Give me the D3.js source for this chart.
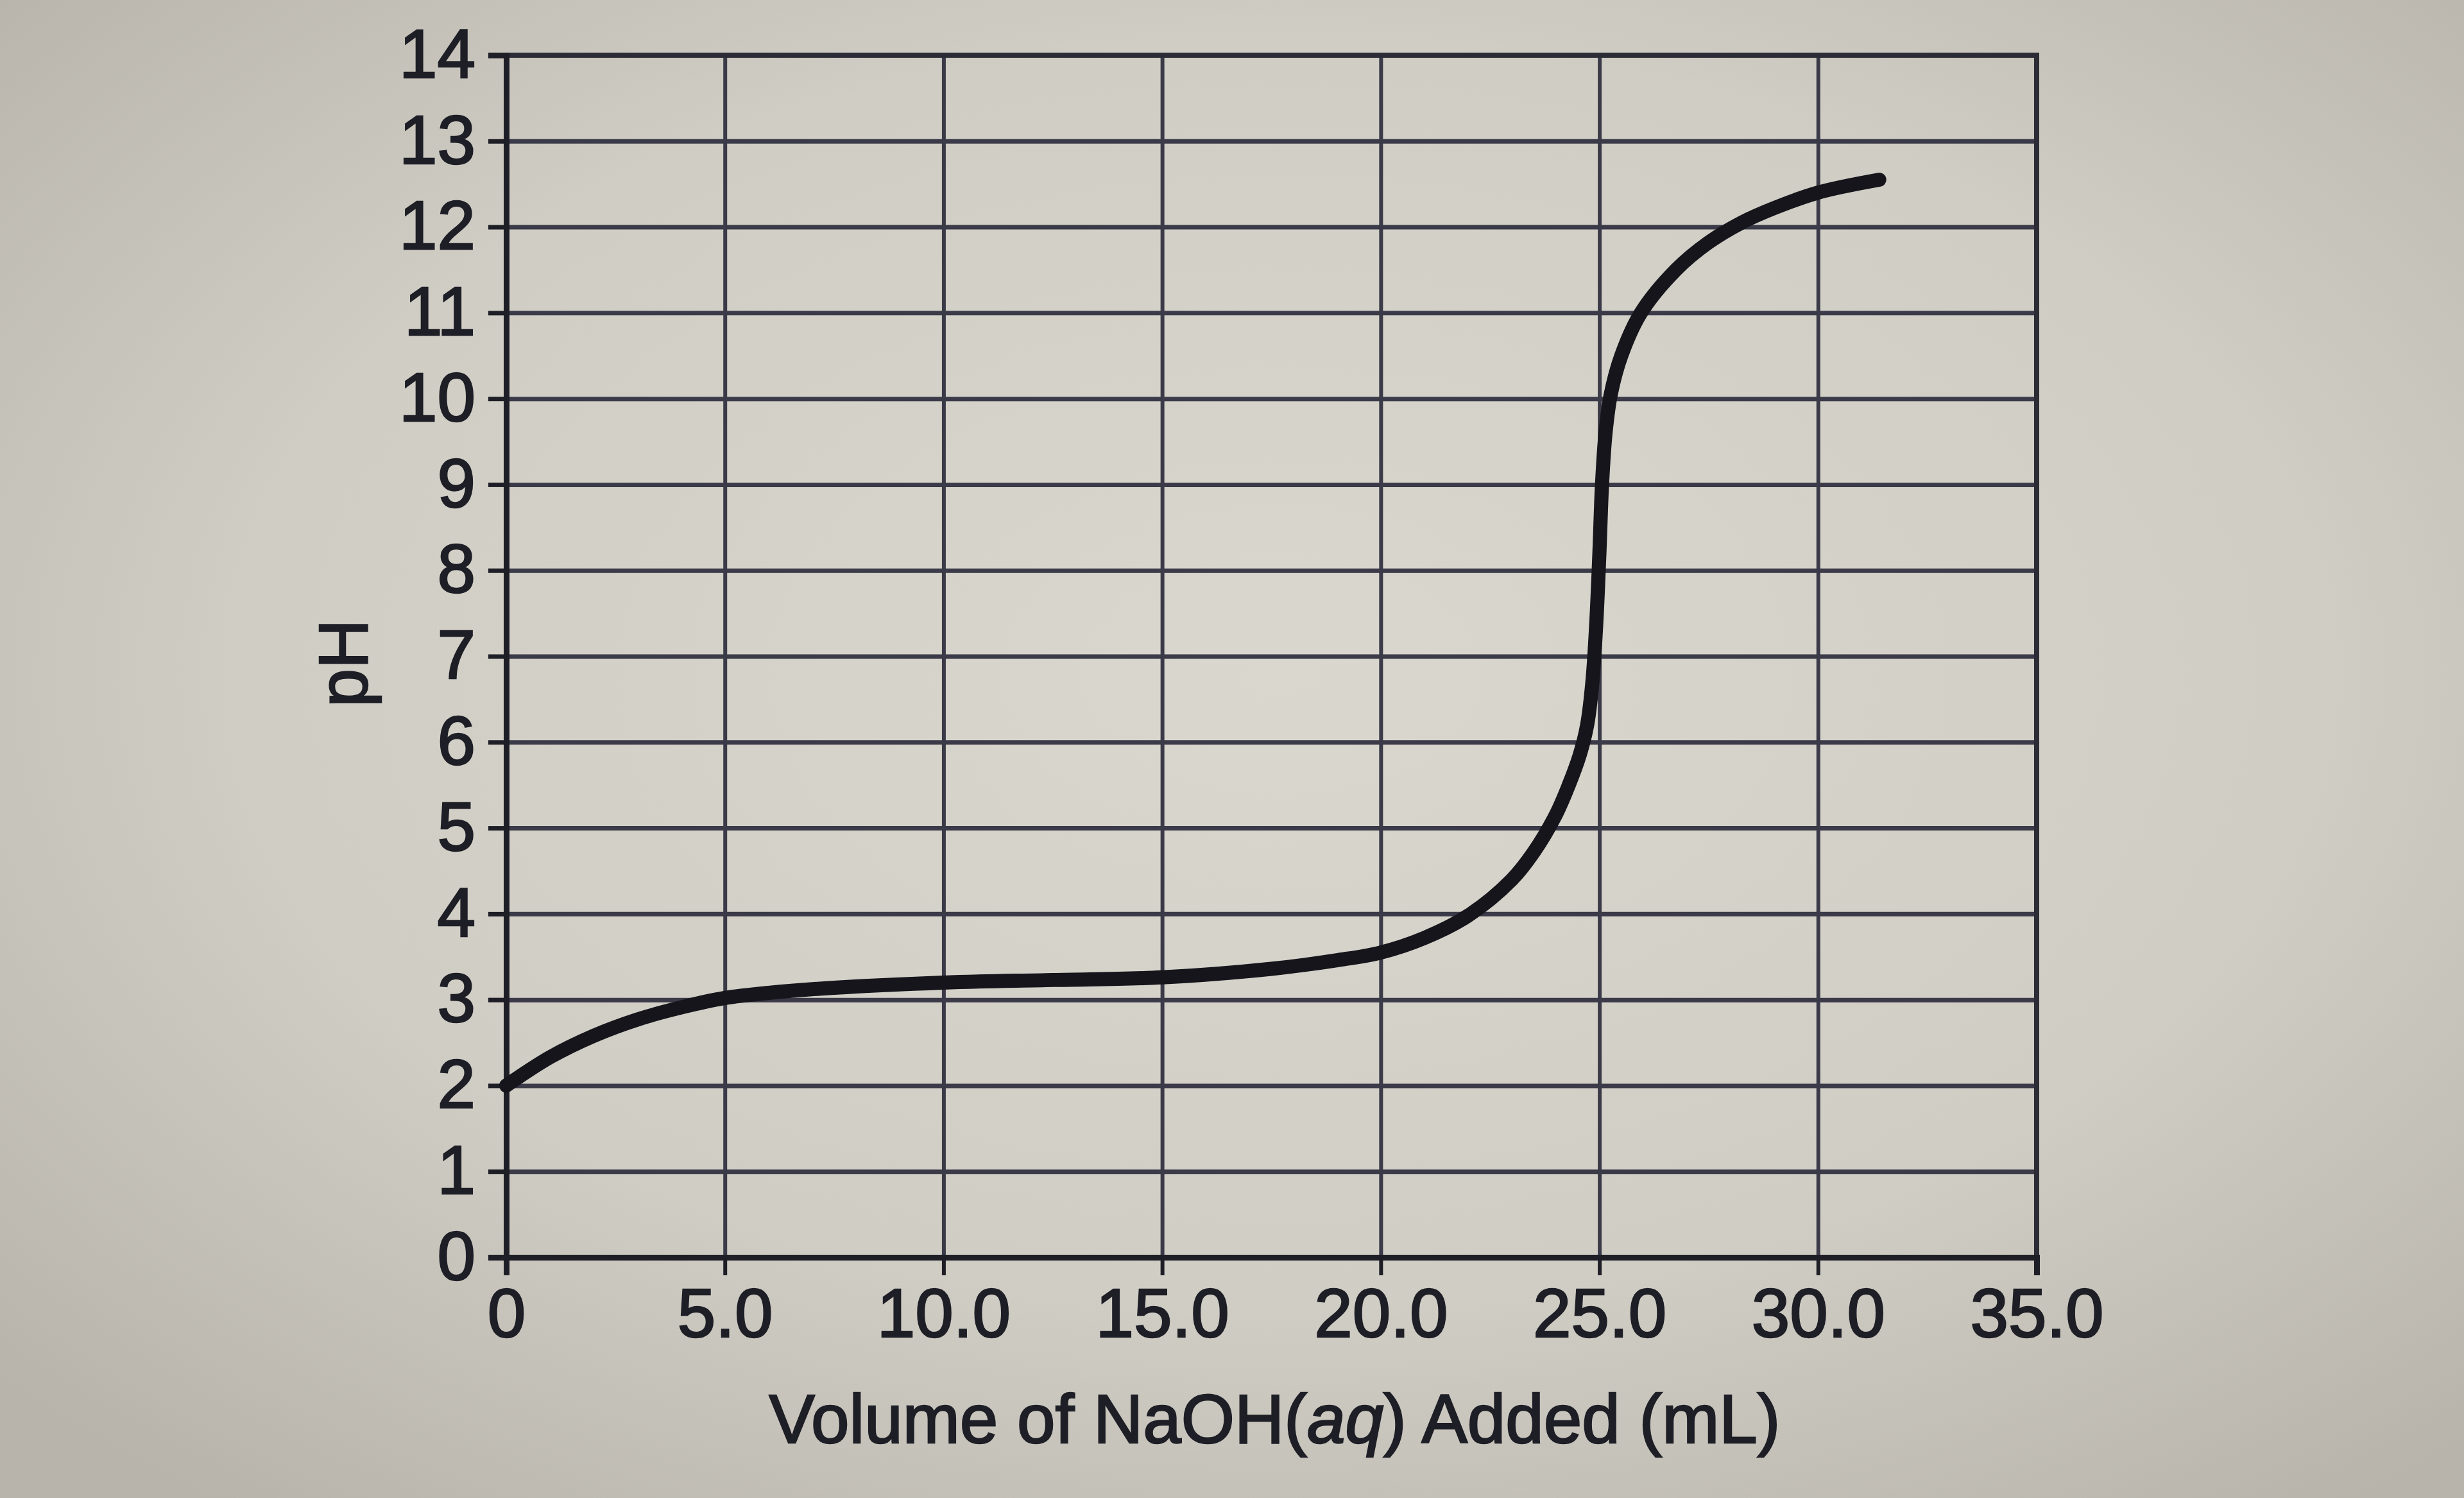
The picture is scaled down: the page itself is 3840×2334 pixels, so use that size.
<!DOCTYPE html>
<html><head><meta charset="utf-8">
<script src="https://cdn.jsdelivr.net/npm/d3@7"></script>
<style>html,body{margin:0;padding:0;background:#cbc8c0;} svg{display:block}</style>
</head><body>
<svg id="chart" width="3840" height="2334"></svg>
<script>
// Data (titration curve)
const volumeML = [0, 1, 2, 3, 4, 5, 6, 7.5, 10, 12.5, 15, 17.5, 19, 20, 21, 22, 23, 23.5, 24, 24.3, 24.55, 24.72, 24.84, 24.93, 25.0, 25.06, 25.14, 25.26, 25.5, 25.95, 26.75, 27.5, 28.25, 29, 30, 31.4];
const pHValues = [2.0, 2.33, 2.58, 2.77, 2.91, 3.02, 3.08, 3.14, 3.2, 3.23, 3.26, 3.36, 3.46, 3.55, 3.72, 3.98, 4.4, 4.72, 5.15, 5.5, 5.85, 6.2, 6.7, 7.4, 8.2, 9.0, 9.6, 10.05, 10.5, 11.0, 11.5, 11.82, 12.05, 12.22, 12.4, 12.55];
const xTickValues = [0, 5, 10, 15, 20, 25, 30, 35];
const xTickLabels = ["0", "5.0", "10.0", "15.0", "20.0", "25.0", "30.0", "35.0"];
const yTickValues = [0, 1, 2, 3, 4, 5, 6, 7, 8, 9, 10, 11, 12, 13, 14];
const xTitleParts = [["Volume of NaOH(", "normal"], ["aq", "italic"], [") Added (mL)", "normal"]];
const yTitle = "pH";

const W = 3840, H = 2334;
const L = 789, R = 3174, T = 86, B = 1959;
const FONT = "'Liberation Sans', Arial, Helvetica, sans-serif";
const INK = "#1e1e26";
const GRID = "#3a3a48";

const svg = d3.select("#chart");

// photographic paper background
const defs = svg.append("defs");
const rg = defs.append("radialGradient").attr("id", "bg")
  .attr("cx", "52%").attr("cy", "45%").attr("r", "70%");
rg.append("stop").attr("offset", "0%").attr("stop-color", "#dad7cf");
rg.append("stop").attr("offset", "60%").attr("stop-color", "#d0cdc5");
rg.append("stop").attr("offset", "100%").attr("stop-color", "#b8b4ab");
svg.append("rect").attr("width", W).attr("height", H).attr("fill", "url(#bg)");

const x = d3.scaleLinear().domain([0, 35]).range([L, R]);
const y = d3.scaleLinear().domain([0, 14]).range([B, T]);

// grid
const gx = svg.append("g").attr("transform", `translate(0,${B})`)
  .call(d3.axisBottom(x).tickValues(xTickValues).tickSize(-(B - T)).tickFormat(""));
gx.select(".domain").remove();
gx.selectAll("line").attr("stroke", GRID).attr("stroke-width", 6);

const gy = svg.append("g").attr("transform", `translate(${L},0)`)
  .call(d3.axisLeft(y).tickValues(yTickValues).tickSize(-(R - L)).tickFormat(""));
gy.select(".domain").remove();
gy.selectAll("line").attr("stroke", GRID).attr("stroke-width", 7);

// frame
svg.append("rect").attr("x", L).attr("y", T).attr("width", R - L).attr("height", B - T)
  .attr("fill", "none").attr("stroke", "#2c2c36").attr("stroke-width", 8);

function styleText(sel) {
  sel.attr("font-family", FONT).attr("font-size", 107).attr("fill", INK)
    .attr("stroke", INK).attr("stroke-width", 2.5).attr("paint-order", "stroke");
}

// axes with outward ticks and labels
const ax = svg.append("g").attr("transform", `translate(0,${B})`)
  .call(d3.axisBottom(x).tickValues(xTickValues).tickSize(28).tickPadding(20)
    .tickFormat((d, i) => xTickLabels[i]));
ax.select(".domain").attr("stroke", INK).attr("stroke-width", 9);
ax.selectAll("line").attr("stroke", INK).attr("stroke-width", 6);
styleText(ax.selectAll("text"));

const ay = svg.append("g").attr("transform", `translate(${L},0)`)
  .call(d3.axisLeft(y).tickValues(yTickValues).tickSize(28).tickPadding(20)
    .tickFormat(d3.format("d")));
ay.select(".domain").attr("stroke", INK).attr("stroke-width", 9);
ay.selectAll("line").attr("stroke", INK).attr("stroke-width", 7);
styleText(ay.selectAll("text"));

// curve
const data = volumeML.map((v, i) => [v, pHValues[i]]);
svg.append("path").datum(data)
  .attr("d", d3.line().x(d => x(d[0])).y(d => y(d[1])).curve(d3.curveCatmullRom.alpha(0.5)))
  .attr("fill", "none").attr("stroke", "#15151b").attr("stroke-width", 22)
  .attr("stroke-linecap", "round").attr("stroke-linejoin", "round");

// axis titles
const xt = svg.append("text").attr("x", (L + R) / 2 + 5).attr("y", 2248)
  .attr("text-anchor", "middle");
styleText(xt);
xt.selectAll("tspan").data(xTitleParts).join("tspan")
  .attr("font-style", d => d[1]).text(d => d[0]);

const yt = svg.append("text").attr("transform", `translate(572,1033) rotate(-90)`)
  .attr("text-anchor", "middle").text(yTitle);
styleText(yt);
</script>
</body></html>
